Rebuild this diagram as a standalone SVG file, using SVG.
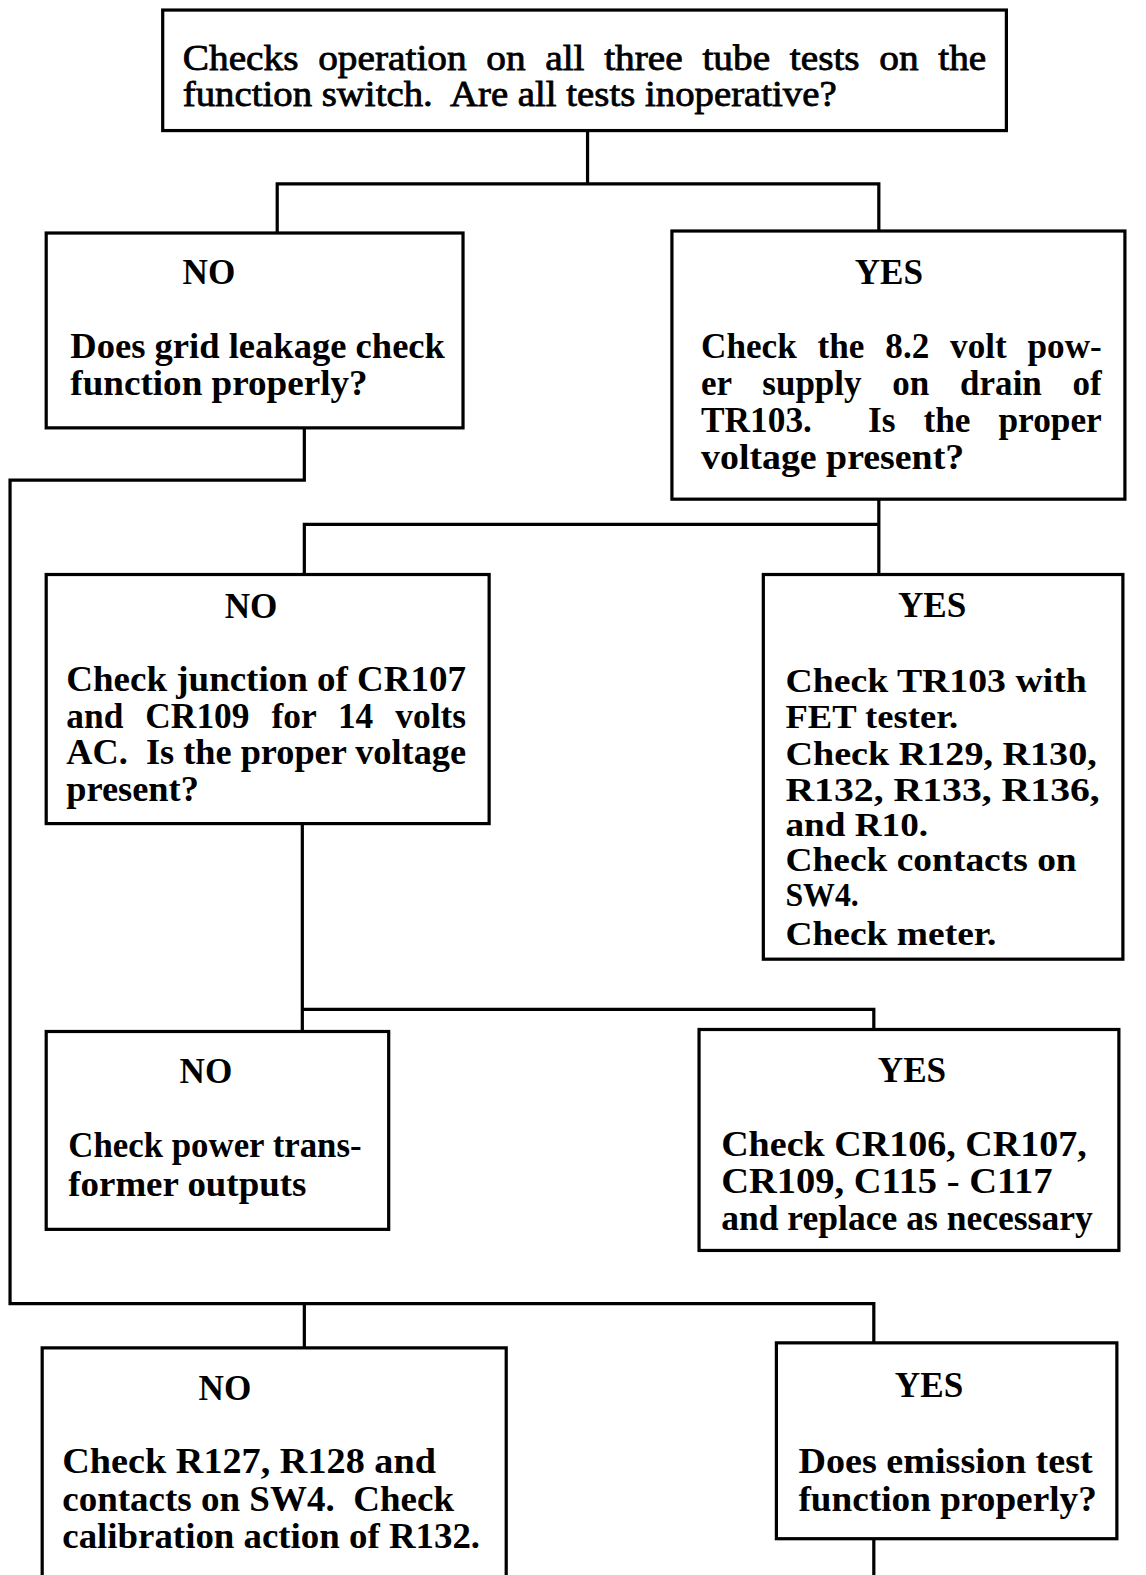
<svg xmlns="http://www.w3.org/2000/svg" width="1146" height="1575" viewBox="0 0 1146 1575">
<style>
.box{fill:#fff;stroke:#000;stroke-width:3.2}
.ln{fill:none;stroke:#000;stroke-width:3.2;stroke-linecap:square}
text{font-family:"Liberation Serif","Times New Roman",serif;fill:#000;font-size:35px;white-space:pre}
.b{font-weight:bold}
.t{stroke:#000;stroke-width:0.8;font-size:36px}
.s{font-size:33px}
.h{font-weight:bold;text-anchor:middle}
</style>
<rect width="1146" height="1575" fill="#fff"/>
<g transform="scale(1.00438)">
<g id="connectors">
<path class="ln" d="M585,130 V183 M276,183 H875 M276,183 V232 M875,183 V230"/>
<path class="ln" d="M303,426 V478 H10 V1298 H870 V1337 M303,1298 V1342"/>
<path class="ln" d="M875,497 V572 M303,522 H875 M303,522 V572"/>
<path class="ln" d="M301,820 V1027 M301,1005 H870 V1025"/>
<path class="ln" d="M870,1532 V1580"/>
</g>
<g id="top">
<rect class="box" x="162" y="10" width="840" height="120"/>
<text class="t" x="182" y="70" textLength="800" lengthAdjust="spacingAndGlyphs" style="word-spacing:9px">Checks operation on all three tube tests on the</text>
<text class="t" x="182" y="106" textLength="651" lengthAdjust="spacingAndGlyphs">function switch.  Are all tests inoperative?</text>
</g>
<g id="no1">
<rect class="box" x="46" y="232" width="415" height="194"/>
<text class="h" x="208" y="283">NO</text>
<text class="b" x="70" y="356" textLength="373" lengthAdjust="spacingAndGlyphs">Does grid leakage check</text>
<text class="b" x="70" y="393" textLength="296" lengthAdjust="spacingAndGlyphs">function properly?</text>
</g>
<g id="yes1">
<rect class="box" x="669" y="230" width="451" height="267"/>
<text class="h" x="885" y="283">YES</text>
<text class="b" x="698" y="356" textLength="399" lengthAdjust="spacingAndGlyphs" style="word-spacing:12px">Check the 8.2 volt pow-</text>
<text class="b" x="698" y="393" textLength="399" lengthAdjust="spacingAndGlyphs" style="word-spacing:22px">er supply on drain of</text>
<text class="b" x="698" y="430" textLength="399" lengthAdjust="spacingAndGlyphs" style="word-spacing:19px">TR103.  Is the proper</text>
<text class="b" x="698" y="467" textLength="262" lengthAdjust="spacingAndGlyphs">voltage present?</text>
</g>
<g id="no2">
<rect class="box" x="46" y="572" width="441" height="248"/>
<text class="h" x="250" y="615">NO</text>
<text class="b" x="66" y="688" textLength="398" lengthAdjust="spacingAndGlyphs">Check junction of CR107</text>
<text class="b" x="66" y="725" textLength="398" lengthAdjust="spacingAndGlyphs" style="word-spacing:13px">and CR109 for 14 volts</text>
<text class="b" x="66" y="761" textLength="398" lengthAdjust="spacingAndGlyphs">AC.  Is the proper voltage</text>
<text class="b" x="66" y="798" textLength="132" lengthAdjust="spacingAndGlyphs">present?</text>
</g>
<g id="yes2">
<rect class="box" x="760" y="572" width="358" height="383"/>
<text class="h" x="928" y="614">YES</text>
<text class="b s" x="782" y="689" textLength="300" lengthAdjust="spacingAndGlyphs">Check TR103 with</text>
<text class="b s" x="782" y="725" textLength="172" lengthAdjust="spacingAndGlyphs">FET tester.</text>
<text class="b s" x="782" y="762" textLength="310" lengthAdjust="spacingAndGlyphs">Check R129, R130,</text>
<text class="b s" x="782" y="798" textLength="313" lengthAdjust="spacingAndGlyphs">R132, R133, R136,</text>
<text class="b s" x="782" y="832" textLength="142" lengthAdjust="spacingAndGlyphs">and R10.</text>
<text class="b s" x="782" y="867" textLength="290" lengthAdjust="spacingAndGlyphs">Check contacts on</text>
<text class="b s" x="782" y="902" textLength="73" lengthAdjust="spacingAndGlyphs">SW4.</text>
<text class="b s" x="782" y="941" textLength="210" lengthAdjust="spacingAndGlyphs">Check meter.</text>
</g>
<g id="no3">
<rect class="box" x="46" y="1027" width="341" height="197"/>
<text class="h" x="205" y="1078">NO</text>
<text class="b" x="68" y="1152" textLength="292" lengthAdjust="spacingAndGlyphs">Check power trans-</text>
<text class="b" x="68" y="1191" textLength="237" lengthAdjust="spacingAndGlyphs">former outputs</text>
</g>
<g id="yes3">
<rect class="box" x="696" y="1025" width="418" height="220"/>
<text class="h" x="908" y="1077">YES</text>
<text class="b" x="718" y="1151" textLength="364" lengthAdjust="spacingAndGlyphs">Check CR106, CR107,</text>
<text class="b" x="718" y="1188" textLength="330" lengthAdjust="spacingAndGlyphs">CR109, C115 - C117</text>
<text class="b" x="718" y="1225" textLength="370" lengthAdjust="spacingAndGlyphs">and replace as necessary</text>
</g>
<g id="no4">
<rect class="box" x="42" y="1342" width="462" height="232"/>
<text class="h" x="224" y="1394">NO</text>
<text class="b" x="62" y="1467" textLength="372" lengthAdjust="spacingAndGlyphs">Check R127, R128 and</text>
<text class="b" x="62" y="1504" textLength="390" lengthAdjust="spacingAndGlyphs">contacts on SW4.  Check</text>
<text class="b" x="62" y="1541" textLength="416" lengthAdjust="spacingAndGlyphs">calibration action of R132.</text>
</g>
<g id="yes4">
<rect class="box" x="773" y="1337" width="339" height="195"/>
<text class="h" x="925" y="1391">YES</text>
<text class="b" x="795" y="1467" textLength="293" lengthAdjust="spacingAndGlyphs">Does emission test</text>
<text class="b" x="795" y="1504" textLength="297" lengthAdjust="spacingAndGlyphs">function properly?</text>
</g>
</g>
</svg>
